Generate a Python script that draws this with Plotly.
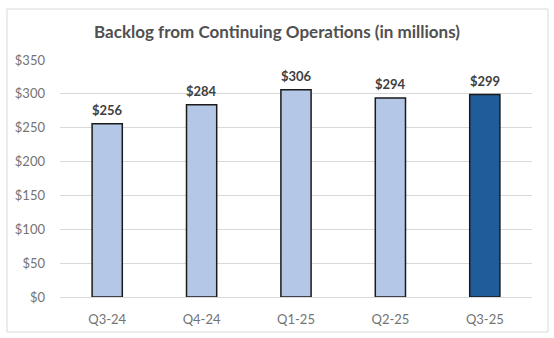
import plotly.graph_objects as go

categories = ["Q3-24", "Q4-24", "Q1-25", "Q2-25", "Q3-25"]
values = [256, 284, 306, 294, 299]
labels = ["$256", "$284", "$306", "$294", "$299"]
colors = ["#B4C7E7", "#B4C7E7", "#B4C7E7", "#B4C7E7", "#1F5C99"]
yticks = [0, 50, 100, 150, 200, 250, 300, 350]
yticklabels = ["$0", "$50", "$100", "$150", "$200", "$250", "$300", "$350"]

FONT = "Lato, Open Sans, sans-serif"
L, R, T, B = 60, 22, 60, 41
PW, PH = 554 - L - R, 338 - T - B

fig = go.Figure(go.Bar(
    x=categories, y=values, width=0.32,
    marker=dict(color=colors, line=dict(color="#1a1a1a", width=1.5)),
))
for c, v, t in zip(categories, values, labels):
    fig.add_annotation(x=c, y=v, text="<b>" + t + "</b>", showarrow=False,
                       yanchor="middle", yshift=14,
                       font=dict(family=FONT, size=13, color="#404040"))

fig.update_layout(
    width=554, height=338,
    margin=dict(l=L, r=R, t=T, b=B),
    paper_bgcolor="white", plot_bgcolor="white",
    title=dict(text="<b>Backlog from Continuing Operations (in millions)</b>",
               x=0.5, xanchor="center", y=0.905, yanchor="middle",
               font=dict(family=FONT, size=17, color="#505050")),
    showlegend=False,
    font=dict(family=FONT, size=13, color="#737373"),
    shapes=[dict(type="rect", xref="paper", yref="paper",
                 x0=(7 - L) / PW, x1=(548 - L) / PW,
                 y0=-(332 - (338 - B)) / PH, y1=((338 - B) - 9) / PH,
                 line=dict(color="#D9D9D9", width=1))],
)
fig.update_yaxes(range=[0, 350], tickvals=yticks, ticktext=yticklabels,
                 showgrid=True, gridcolor="#D9D9D9", gridwidth=1,
                 zeroline=False, showline=False, ticks="", ticklen=0,
                 ticklabelstandoff=14,
                 tickfont=dict(size=13, color="#737373"))
fig.update_xaxes(showline=True, linecolor="#D9D9D9", ticks="",
                 ticklabelstandoff=10,
                 tickfont=dict(size=13, color="#737373"))
fig.write_html("out.html")
